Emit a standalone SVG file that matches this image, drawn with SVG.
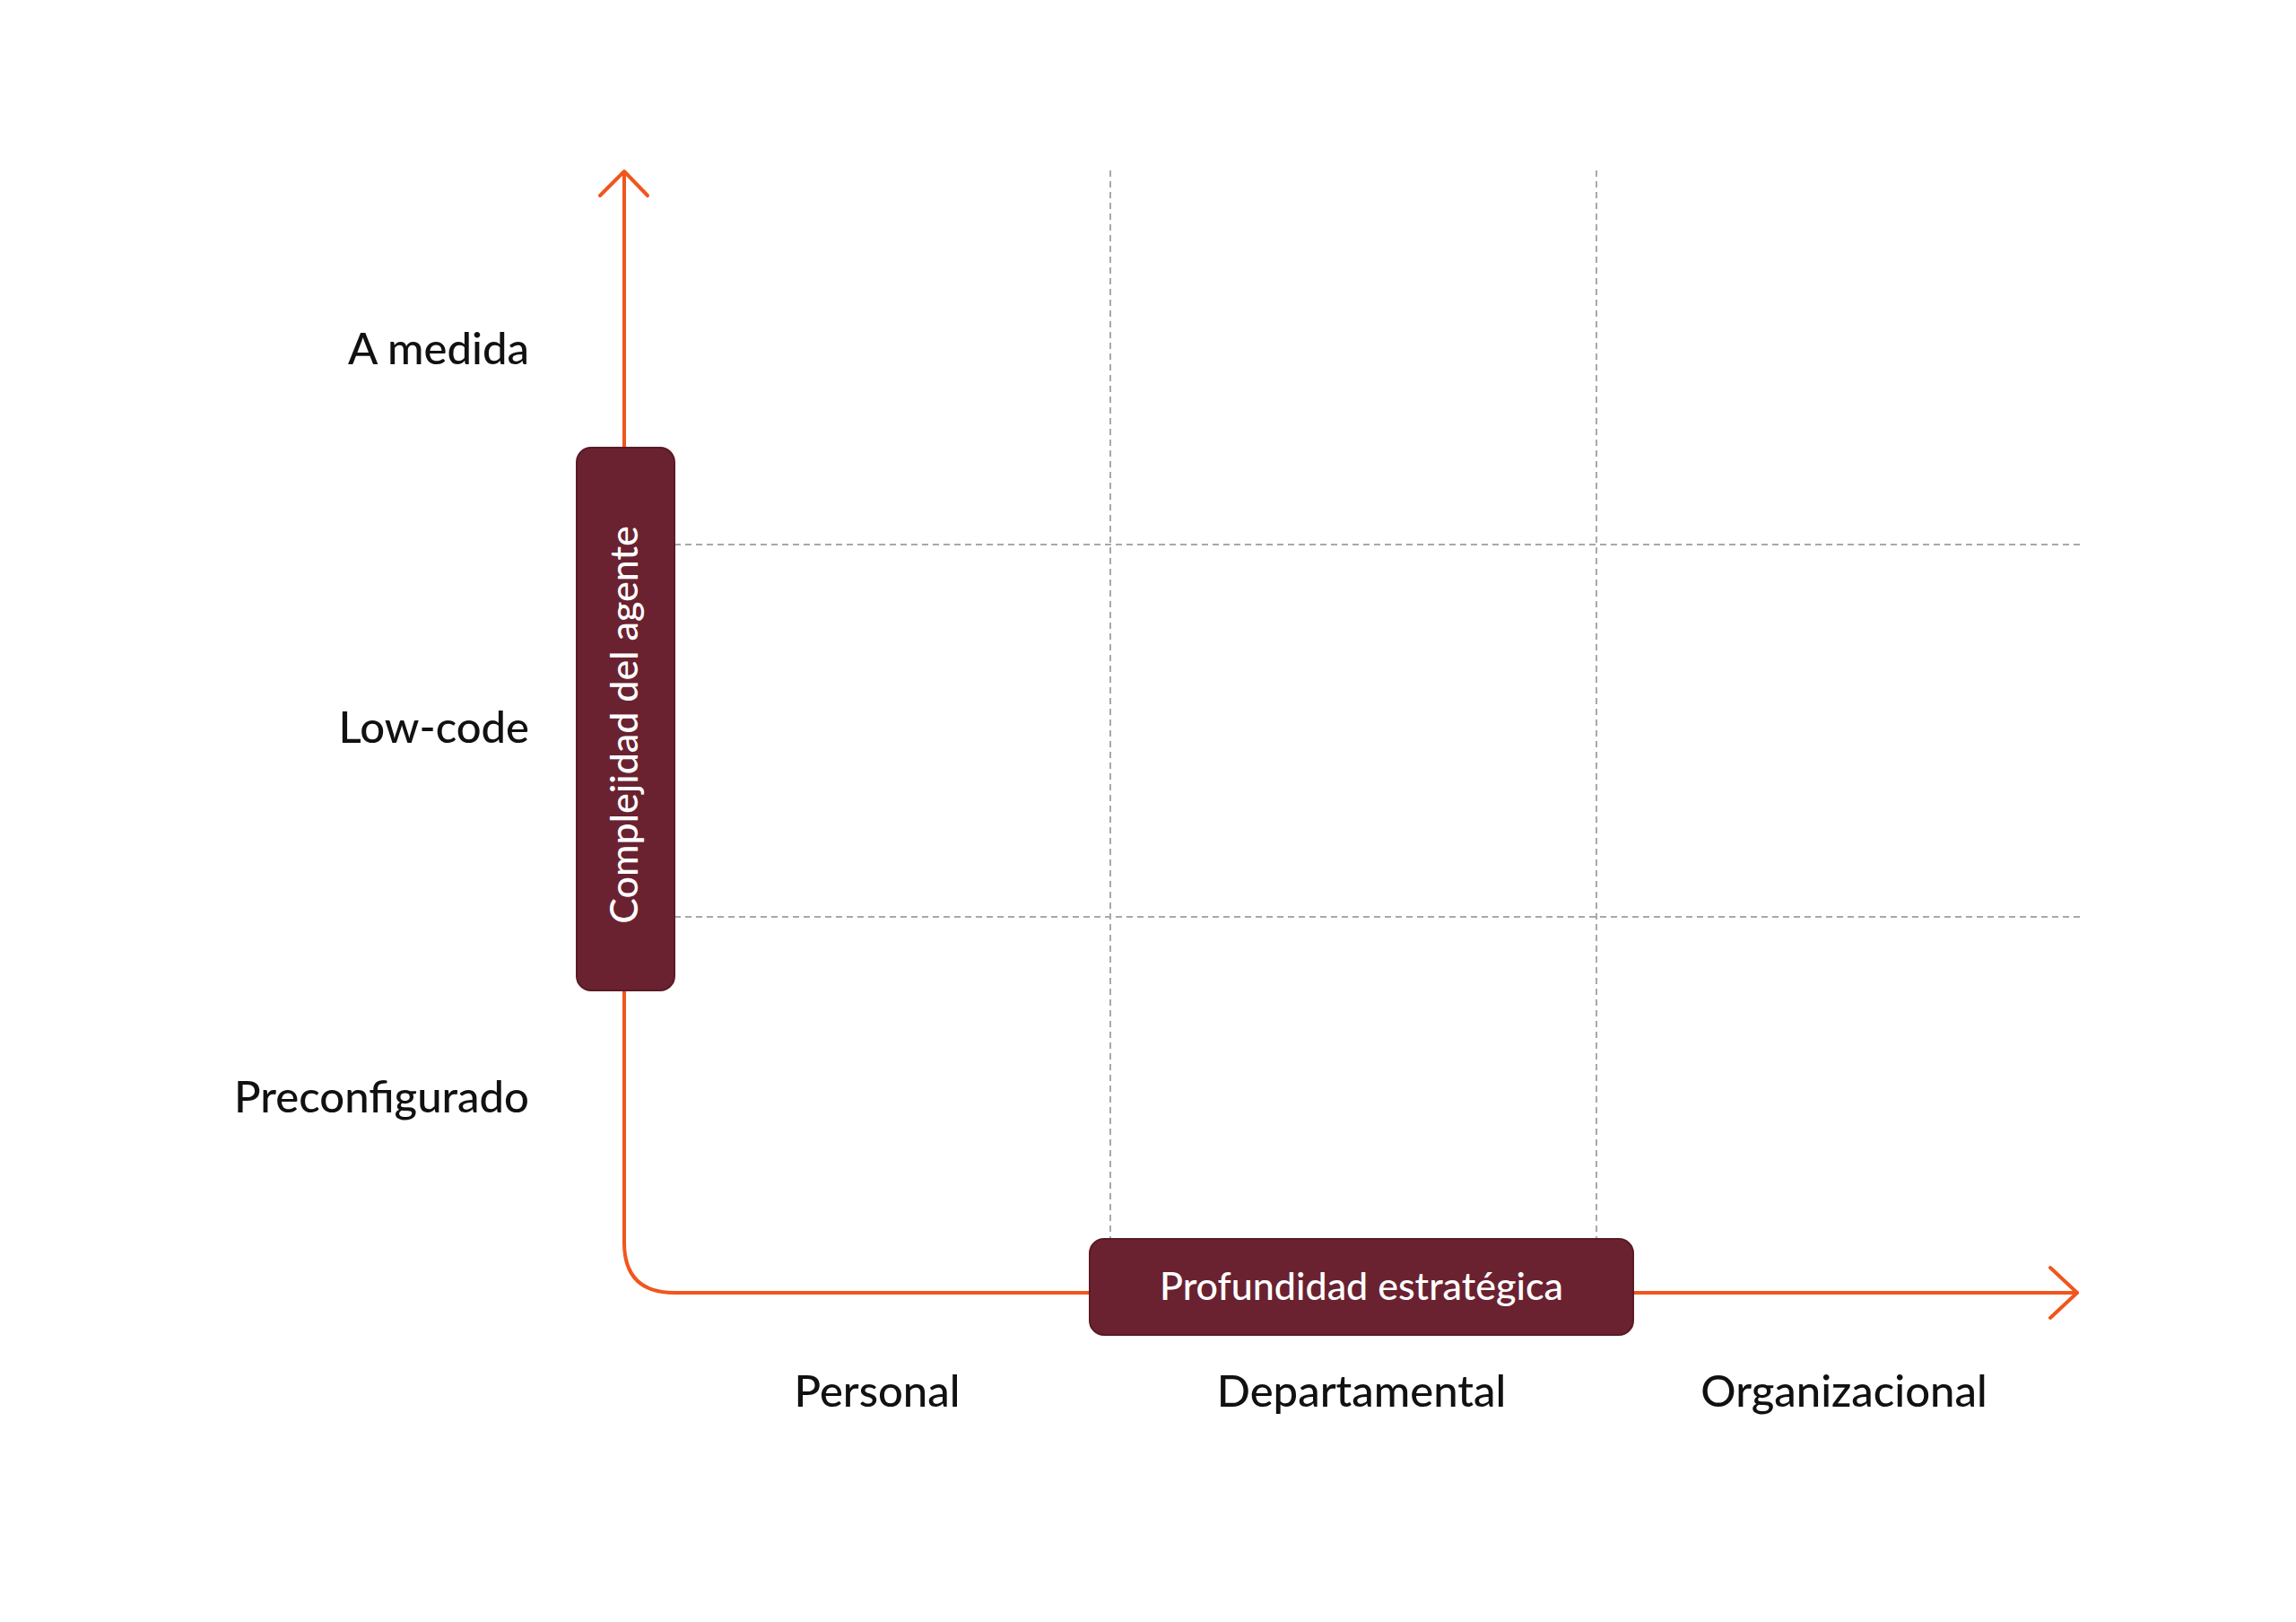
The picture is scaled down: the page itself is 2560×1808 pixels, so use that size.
<svg xmlns="http://www.w3.org/2000/svg" width="2560" height="1808" viewBox="0 0 2560 1808">
<style>
.lbl{font-family:Lato,"Liberation Sans",sans-serif;font-size:49px;fill:#111;font-weight:500}
.box{fill:#6b2230;stroke:#5a1a26;stroke-width:2}
.bt{font-family:Lato,"Liberation Sans",sans-serif;font-size:43px;fill:#fff;font-weight:500}
.grid{stroke:#a8a8a8;stroke-width:2;stroke-dasharray:7 5;fill:none}
.ax{stroke:#f0561d;stroke-width:4;fill:none;stroke-linecap:round;stroke-linejoin:round}
</style>
<rect width="2560" height="1808" fill="#fff"/>
<g id="grid">
<line class="grid" x1="752" y1="607" x2="2320" y2="607"/>
<line class="grid" x1="752" y1="1022" x2="2320" y2="1022"/>
<line class="grid" x1="1238" y1="190" x2="1238" y2="1381"/>
<line class="grid" x1="1780" y1="190" x2="1780" y2="1381"/>
</g>
<g id="connectors">
<path class="ax" d="M696 194 V1385 Q696 1441 752 1441 H2316"/>
<polyline class="ax" points="669,218 696,191 722,218"/>
<polyline class="ax" points="2286,1413 2316,1441 2286,1469"/>
</g>
<g id="y-axis-box">
<rect class="box" x="643" y="499" width="109" height="605" rx="16"/>
<text class="bt" transform="translate(711,808) rotate(-90)" text-anchor="middle">Complejidad del agente</text>
</g>
<g id="x-axis-box">
<rect class="box" x="1215" y="1381" width="606" height="107" rx="16"/>
<text class="bt" x="1518" y="1449" text-anchor="middle">Profundidad estratégica</text>
</g>
<g id="y-labels">
<text class="lbl" x="590" y="406" text-anchor="end">A medida</text>
<text class="lbl" x="590" y="828" text-anchor="end">Low-code</text>
<text class="lbl" x="590" y="1240" text-anchor="end">Preconfigurado</text>
</g>
<g id="x-labels">
<text class="lbl" x="978" y="1568" text-anchor="middle">Personal</text>
<text class="lbl" x="1518" y="1568" text-anchor="middle">Departamental</text>
<text class="lbl" x="2056" y="1568" text-anchor="middle">Organizacional</text>
</g>
</svg>
